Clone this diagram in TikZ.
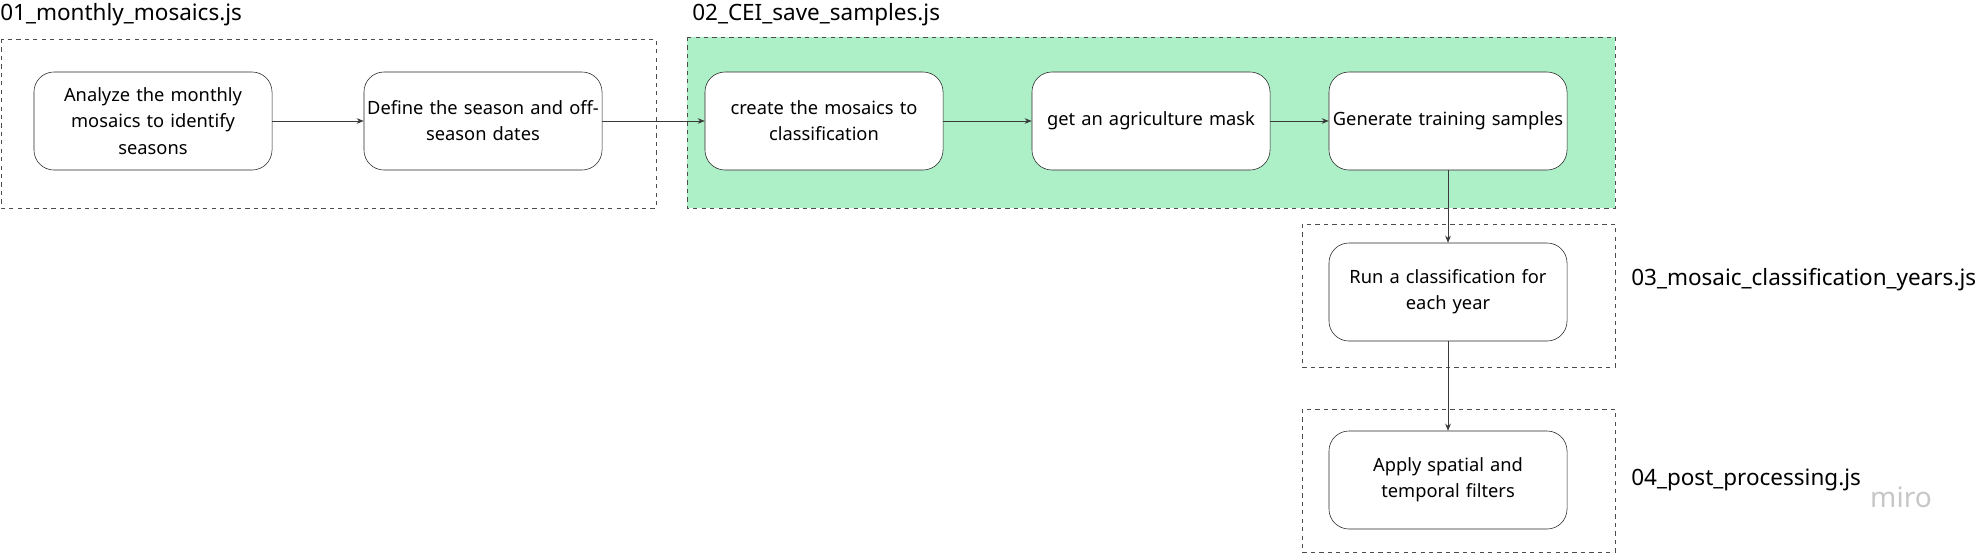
\documentclass[tikz,border=0pt]{standalone}
\usepackage{fontspec}
\setmainfont{Noto Sans}
\usetikzlibrary{arrows.meta, positioning}
\definecolor{stagegreen}{HTML}{ADF0C7}
\definecolor{linegray}{HTML}{3A3A3A}

\begin{document}
\begin{tikzpicture}[x=0.025cm, y=-0.025cm, >={Stealth[length=5pt, width=4pt]}]
    \tikzset{
      stepbox/.style={draw=black!85, fill=white, rounded corners=0.5cm, minimum width=5.95cm, minimum height=2.45cm, text width=5.8cm, align=center, font=\fontsize{13}{18.6}\selectfont, inner sep=2pt},
      frame/.style={draw=black!70, dashed, thin},
      script/.style={font=\fontsize{16}{19}\selectfont, anchor=west, inner sep=0pt},
      flow/.style={->, linegray, thin}
    }
    \useasboundingbox (0,0) rectangle (1977,554);

    % --- Script frames ---
    \draw[frame] (1,39) rectangle (656,208);
    \draw[frame, fill=stagegreen] (687,37) rectangle (1615,208);
    \draw[frame] (1302,224) rectangle (1615,367);
    \draw[frame] (1302,409) rectangle (1615,552);

    % --- Script names ---
    \node[script] (t1) at (0,15) {01\_monthly\_mosaics.js};
    \node[script] (t2) at (692,15) {02\_CEI\_save\_samples.js};
    \node[script] (t3) at (1631,280) {03\_mosaic\_classification\_years.js};
    \node[script] (t4) at (1631,480) {04\_post\_processing.js};

    % --- Steps ---
    \node[stepbox] (analyze) at (153,121) {Analyze the monthly\\mosaics to identify\\seasons};
    \node[stepbox] (define) at (483,121) {Define the season and off-\\season dates};
    \node[stepbox] (create) at (824,121) {create the mosaics to\\classification};
    \node[stepbox] (mask) at (1151,121) {get an agriculture mask};
    \node[stepbox] (samples) at (1448,121) {Generate training samples};
    \node[stepbox] (classify) at (1448,292) {Run a classification for\\each year};
    \node[stepbox] (filters) at (1448,480) {Apply spatial and\\temporal filters};

    % --- Flow ---
    \draw[flow] (analyze) -- (define);
    \draw[flow] (define) -- (create);
    \draw[flow] (create) -- (mask);
    \draw[flow] (mask) -- (samples);
    \draw[flow] (samples) -- (classify);
    \draw[flow] (classify) -- (filters);

    % watermark
    \node[font=\fontsize{20}{24}\selectfont, text=black!22] (miro) at (1901,497) {miro};
\end{tikzpicture}
\end{document}
